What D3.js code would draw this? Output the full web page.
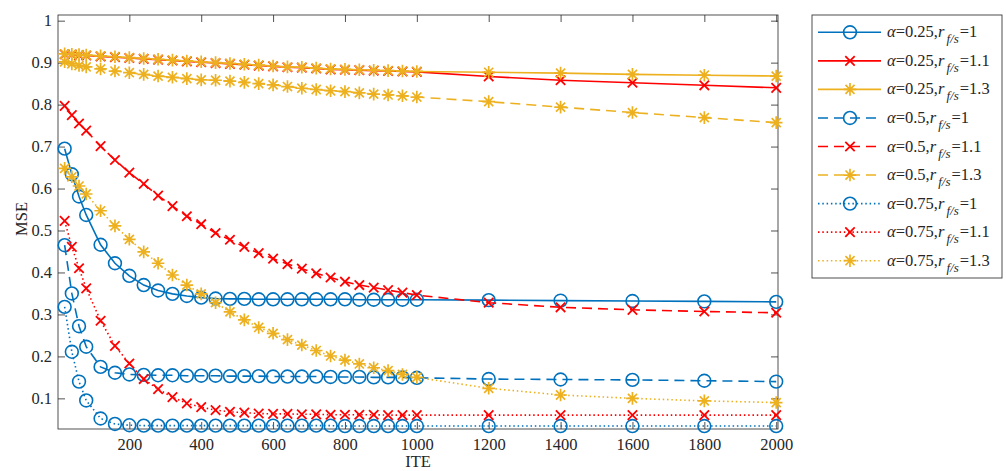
<!DOCTYPE html>
<html>
<head>
<meta charset="utf-8">
<script src="https://cdn.jsdelivr.net/npm/d3@7"></script>
<style>
  body { margin: 0; background: #fff; }
  svg { display: block; }
  text { font-family: "Liberation Serif", "Times New Roman", serif; fill: #262626; }
</style>
</head>
<body>
<svg id="chart" width="1006" height="471"></svg>
<script>
// Iteration counts at which MSE was recorded
const ite = [20, 40, 60, 80, 120, 160, 200, 240, 280, 320, 360, 400, 440, 480, 520, 560,
             600, 640, 680, 720, 760, 800, 840, 880, 920, 960, 1000, 1200, 1400, 1600, 1800, 2000];

// MSE curves, one per (alpha, r_f/s) setting
const mseA025R10 = [0.695, 0.634, 0.581, 0.537, 0.466, 0.422, 0.392, 0.370, 0.357, 0.349, 0.344, 0.340, 0.338, 0.337, 0.337, 0.336,
                    0.336, 0.336, 0.336, 0.336, 0.336, 0.336, 0.335, 0.335, 0.335, 0.335, 0.335, 0.334, 0.333, 0.332, 0.331, 0.330];
const mseA025R11 = [0.920, 0.919, 0.918, 0.917, 0.915, 0.913, 0.911, 0.909, 0.907, 0.905, 0.903, 0.901, 0.899, 0.897, 0.895, 0.893,
                    0.891, 0.889, 0.888, 0.886, 0.884, 0.883, 0.882, 0.881, 0.880, 0.879, 0.878, 0.867, 0.858, 0.852, 0.846, 0.840];
const mseA025R13 = [0.921, 0.920, 0.919, 0.918, 0.916, 0.914, 0.912, 0.910, 0.908, 0.906, 0.904, 0.902, 0.900, 0.898, 0.896, 0.894,
                    0.892, 0.890, 0.889, 0.887, 0.885, 0.884, 0.883, 0.882, 0.881, 0.880, 0.879, 0.877, 0.875, 0.872, 0.870, 0.868];
const mseA05R10  = [0.465, 0.350, 0.272, 0.223, 0.175, 0.161, 0.157, 0.156, 0.155, 0.155, 0.154, 0.154, 0.154, 0.153, 0.153, 0.153,
                    0.152, 0.152, 0.152, 0.152, 0.151, 0.151, 0.151, 0.150, 0.150, 0.150, 0.149, 0.146, 0.145, 0.144, 0.142, 0.140];
const mseA05R11  = [0.797, 0.775, 0.755, 0.738, 0.701, 0.668, 0.638, 0.611, 0.583, 0.558, 0.534, 0.515, 0.494, 0.478, 0.461, 0.446,
                    0.433, 0.420, 0.409, 0.398, 0.388, 0.378, 0.370, 0.364, 0.358, 0.352, 0.346, 0.328, 0.317, 0.311, 0.307, 0.304];
const mseA05R13  = [0.902, 0.897, 0.893, 0.890, 0.885, 0.880, 0.876, 0.872, 0.868, 0.865, 0.862, 0.859, 0.858, 0.856, 0.853, 0.850,
                    0.847, 0.843, 0.839, 0.836, 0.833, 0.831, 0.828, 0.825, 0.823, 0.821, 0.818, 0.807, 0.794, 0.781, 0.769, 0.757];
const mseA075R10 = [0.318, 0.211, 0.140, 0.095, 0.052, 0.039, 0.036, 0.035, 0.035, 0.035, 0.035, 0.035, 0.035, 0.035, 0.035, 0.035,
                    0.035, 0.035, 0.035, 0.035, 0.035, 0.034, 0.034, 0.034, 0.034, 0.034, 0.034, 0.034, 0.034, 0.034, 0.034, 0.034];
const mseA075R11 = [0.523, 0.461, 0.410, 0.362, 0.285, 0.225, 0.183, 0.146, 0.122, 0.103, 0.088, 0.079, 0.072, 0.068, 0.066, 0.064,
                    0.063, 0.063, 0.062, 0.062, 0.061, 0.061, 0.061, 0.061, 0.060, 0.060, 0.060, 0.060, 0.060, 0.060, 0.060, 0.060];
const mseA075R13 = [0.648, 0.628, 0.606, 0.587, 0.547, 0.511, 0.479, 0.449, 0.422, 0.394, 0.370, 0.349, 0.328, 0.306, 0.287, 0.269,
                    0.255, 0.240, 0.227, 0.214, 0.201, 0.191, 0.182, 0.173, 0.166, 0.157, 0.150, 0.124, 0.108, 0.100, 0.094, 0.090];

// Legend parameters
const alphaLabels = ["0.25", "0.25", "0.25", "0.5", "0.5", "0.5", "0.75", "0.75", "0.75"];
const ratioLabels = ["1", "1.1", "1.3", "1", "1.1", "1.3", "1", "1.1", "1.3"];

// Axis ticks
const xTickValues = [200, 400, 600, 800, 1000, 1200, 1400, 1600, 1800, 2000];
const yTickValues = [0.1, 0.2, 0.3, 0.4, 0.5, 0.6, 0.7, 0.8, 0.9, 1];
const yTickLabels = ["0.1", "0.2", "0.3", "0.4", "0.5", "0.6", "0.7", "0.8", "0.9", "1"];

// ---------- styling ----------
const colors = { blue: "#0072BD", red: "#FF0000", gold: "#EDB120" };
const dashes = { solid: null, dashed: "10,6", dotted: "1.5,2.8" };
const series = [
  { values: mseA025R10, color: colors.blue, dash: "solid",  marker: "circle" },
  { values: mseA025R11, color: colors.red,  dash: "solid",  marker: "cross" },
  { values: mseA025R13, color: colors.gold, dash: "solid",  marker: "star" },
  { values: mseA05R10,  color: colors.blue, dash: "dashed", marker: "circle" },
  { values: mseA05R11,  color: colors.red,  dash: "dashed", marker: "cross" },
  { values: mseA05R13,  color: colors.gold, dash: "dashed", marker: "star" },
  { values: mseA075R10, color: colors.blue, dash: "dotted", marker: "circle" },
  { values: mseA075R11, color: colors.red,  dash: "dotted", marker: "cross" },
  { values: mseA075R13, color: colors.gold, dash: "dotted", marker: "star" }
].map((s, i) => ({ ...s, alpha: alphaLabels[i], ratio: ratioLabels[i] }));

const plot = { left: 58, right: 778, top: 15, bottom: 429 };
const axisColor = "#262626";
const tickLen = 7;

const svg = d3.select("#chart");
svg.append("rect").attr("width", 1006).attr("height", 471).attr("fill", "#fff");

const x = d3.scaleLinear().domain([1.5, 2005]).range([plot.left, plot.right]);
const y = d3.scaleLinear().domain([0.027, 1.0135]).range([plot.bottom, plot.top]);

// Axes (ticks point inward, box on)
const fmtY = d => yTickLabels[yTickValues.indexOf(d)];
const gx = svg.append("g").attr("transform", `translate(0,${plot.bottom})`)
  .call(d3.axisBottom(x).tickValues(xTickValues).tickSizeInner(-tickLen).tickSizeOuter(0).tickPadding(9).tickFormat(d3.format("d")));
const gy = svg.append("g").attr("transform", `translate(${plot.left},0)`)
  .call(d3.axisLeft(y).tickValues(yTickValues).tickSizeInner(-tickLen).tickSizeOuter(0).tickPadding(6).tickFormat(fmtY));
const gxTop = svg.append("g").attr("transform", `translate(0,${plot.top})`)
  .call(d3.axisTop(x).tickValues(xTickValues).tickSizeInner(-tickLen).tickSizeOuter(0).tickFormat(""));
const gyRight = svg.append("g").attr("transform", `translate(${plot.right},0)`)
  .call(d3.axisRight(y).tickValues(yTickValues).tickSizeInner(-tickLen).tickSizeOuter(0).tickFormat(""));

[gx, gy, gxTop, gyRight].forEach(g => {
  g.attr("font-family", null).attr("font-size", null);
  g.select(".domain").remove();
  g.selectAll(".tick line").attr("stroke", axisColor).attr("stroke-width", 0.8);
  g.selectAll(".tick text").attr("font-size", 16.5).attr("fill", axisColor)
    .style("font-family", '"Liberation Serif", "Times New Roman", serif');
});

svg.append("rect")
  .attr("x", plot.left).attr("y", plot.top)
  .attr("width", plot.right - plot.left).attr("height", plot.bottom - plot.top)
  .attr("fill", "none").attr("stroke", axisColor).attr("stroke-width", 0.8);

// Axis titles
svg.append("text").attr("x", (plot.left + plot.right) / 2).attr("y", 467)
  .attr("text-anchor", "middle").attr("font-size", 16.5).text("ITE");
svg.append("text").attr("transform", `translate(27,${(plot.top + plot.bottom) / 2 - 3}) rotate(-90)`)
  .attr("text-anchor", "middle").attr("font-size", 16.5).text("MSE");

// Marker shapes
const markerPath = {
  cross: r => `M${-r},${-r}L${r},${r}M${-r},${r}L${r},${-r}`,
  star: r => {
    const d = r * 0.72;
    return `M0,${-r}L0,${r}M${-r},0L${r},0M${-d},${-d}L${d},${d}M${-d},${d}L${d},${-d}`;
  }
};
function drawMarker(g, type, cx, cy, color) {
  if (type === "circle") {
    g.append("circle").attr("cx", cx).attr("cy", cy).attr("r", 6.4)
      .attr("fill", "none").attr("stroke", color).attr("stroke-width", 1.6);
  } else {
    const r = type === "cross" ? 4.7 : 6.3;
    g.append("path").attr("transform", `translate(${cx},${cy})`).attr("d", markerPath[type](r))
      .attr("fill", "none").attr("stroke", color).attr("stroke-width", type === "cross" ? 1.8 : 1.7);
  }
}

// Series lines and markers
const line = d3.line().x((d, i) => x(ite[i])).y(d => y(d));
const gData = svg.append("g");
series.forEach(s => {
  const g = gData.append("g");
  g.append("path").datum(s.values).attr("d", line)
    .attr("fill", "none").attr("stroke", s.color).attr("stroke-width", 1.6)
    .attr("stroke-dasharray", dashes[s.dash]);
  s.values.forEach((v, i) => drawMarker(g, s.marker, x(ite[i]), y(v), s.color));
});

// Legend
const legend = { x: 812, y: 15, w: 190, h: 263, row0: 32.3, rowStep: 28.55 };
svg.append("rect").attr("x", legend.x).attr("y", legend.y).attr("width", legend.w).attr("height", legend.h)
  .attr("fill", "#fff").attr("stroke", "#3a3a3a").attr("stroke-width", 0.9);
series.forEach((s, i) => {
  const cy = legend.row0 + i * legend.rowStep;
  const g = svg.append("g");
  g.append("line").attr("x1", 818).attr("x2", 881).attr("y1", cy).attr("y2", cy)
    .attr("stroke", s.color).attr("stroke-width", 1.6).attr("stroke-dasharray", dashes[s.dash]);
  drawMarker(g, s.marker, 850, cy, s.color);
  const t = g.append("text").attr("x", 887).attr("y", cy + 5).attr("font-size", 16.5);
  t.append("tspan").attr("font-style", "italic").text("α");
  t.append("tspan").text(`=${s.alpha},`);
  t.append("tspan").attr("font-style", "italic").text("r");
  t.append("tspan").attr("font-style", "italic").attr("font-size", 13).attr("dy", 6).attr("dx", 2).text("f/s");
  t.append("tspan").attr("dy", -6).attr("dx", 1).text(`=${s.ratio}`);
});
</script>
</body>
</html>
